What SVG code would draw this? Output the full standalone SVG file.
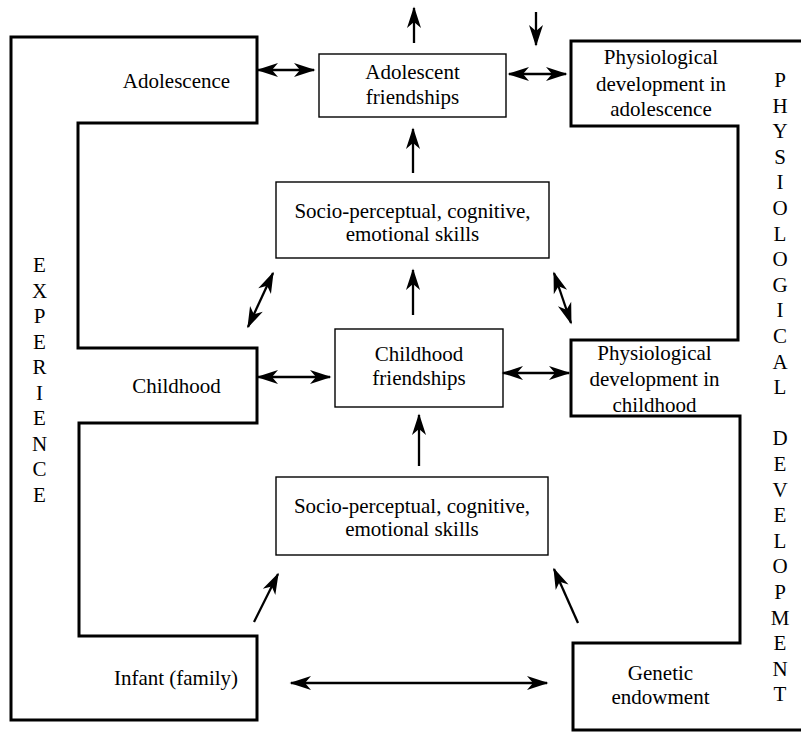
<svg xmlns="http://www.w3.org/2000/svg" width="801" height="743" viewBox="0 0 801 743">
<style>
  text { font-family: "Liberation Serif", "Times New Roman", serif; font-size: 21px; fill: #000; }
  .c { text-anchor: middle; }
  .frame { fill: none; stroke: #000; stroke-width: 3; stroke-linejoin: miter; }
  .box { fill: #fff; stroke: #000; stroke-width: 1.4; }
  .arr { fill: none; stroke: #000; stroke-width: 2.3; }
</style>
<defs>
  <marker id="ah" viewBox="-22 -9 24 18" refX="0" refY="0" markerWidth="24" markerHeight="18" markerUnits="userSpaceOnUse" orient="auto-start-reverse">
    <path d="M1.5,0 L-20,-7 L-14,0 L-20,7 Z" fill="#000"/>
  </marker>
</defs>
<rect width="801" height="743" fill="#fff"/>

<g id="experience">
  <path class="frame" d="M11,37 H257 V123 H78 V348 H257 V423 H79 V636 H257 V720 H11 Z"/>
  <text class="c" x="176.5" y="88">Adolescence</text>
  <text class="c" x="176.5" y="393">Childhood</text>
  <text class="c" x="176" y="685">Infant (family)</text>
  <text class="c" x="39.5" y="272">E</text>
  <text class="c" x="39.5" y="297.5">X</text>
  <text class="c" x="39.5" y="323">P</text>
  <text class="c" x="39.5" y="348.5">E</text>
  <text class="c" x="39.5" y="374">R</text>
  <text class="c" x="39.5" y="399.5">I</text>
  <text class="c" x="39.5" y="425">E</text>
  <text class="c" x="39.5" y="450.5">N</text>
  <text class="c" x="39.5" y="476">C</text>
  <text class="c" x="39.5" y="501.5">E</text>
</g>

<g id="physiological">
  <path class="frame" d="M810,41 H571 V126 H738 V340 H571 V416 H740 V643 H573 V730 H810"/>
  <text class="c" x="661" y="64">Physiological</text>
  <text class="c" x="661" y="90.5">development in</text>
  <text class="c" x="661" y="116">adolescence</text>
  <text class="c" x="654.5" y="360">Physiological</text>
  <text class="c" x="654.5" y="386">development in</text>
  <text class="c" x="654.5" y="412">childhood</text>
  <text class="c" x="660.5" y="680">Genetic</text>
  <text class="c" x="660.5" y="704">endowment</text>
  <text class="c" x="780" y="87">P</text>
  <text class="c" x="780" y="112.6">H</text>
  <text class="c" x="780" y="138.2">Y</text>
  <text class="c" x="780" y="163.8">S</text>
  <text class="c" x="780" y="189.4">I</text>
  <text class="c" x="780" y="215">O</text>
  <text class="c" x="780" y="240.6">L</text>
  <text class="c" x="780" y="266.2">O</text>
  <text class="c" x="780" y="291.8">G</text>
  <text class="c" x="780" y="317.4">I</text>
  <text class="c" x="780" y="343">C</text>
  <text class="c" x="780" y="368.6">A</text>
  <text class="c" x="780" y="394.2">L</text>
  <text class="c" x="780" y="445.4">D</text>
  <text class="c" x="780" y="471">E</text>
  <text class="c" x="780" y="496.6">V</text>
  <text class="c" x="780" y="522.2">E</text>
  <text class="c" x="780" y="547.8">L</text>
  <text class="c" x="780" y="573.4">O</text>
  <text class="c" x="780" y="599">P</text>
  <text class="c" x="780" y="624.6">M</text>
  <text class="c" x="780" y="650.2">E</text>
  <text class="c" x="780" y="675.8">N</text>
  <text class="c" x="780" y="701.4">T</text>
</g>

<g id="adolescent-friendships">
  <rect class="box" x="319" y="54" width="187" height="63"/>
  <text class="c" x="412.5" y="79">Adolescent</text>
  <text class="c" x="412.5" y="104">friendships</text>
</g>

<g id="skills-adolescence">
  <rect class="box" x="276" y="182" width="273" height="76"/>
  <text class="c" x="412.5" y="218">Socio-perceptual, cognitive,</text>
  <text class="c" x="412.5" y="241">emotional skills</text>
</g>

<g id="childhood-friendships">
  <rect class="box" x="335" y="329" width="168" height="78"/>
  <text class="c" x="419" y="361">Childhood</text>
  <text class="c" x="419" y="385">friendships</text>
</g>

<g id="skills-childhood">
  <rect class="box" x="276" y="477" width="272" height="78"/>
  <text class="c" x="412" y="513">Socio-perceptual, cognitive,</text>
  <text class="c" x="412" y="536">emotional skills</text>
</g>

<g id="connectors">
  <line class="arr" x1="258" y1="70" x2="314" y2="70" marker-start="url(#ah)" marker-end="url(#ah)"/>
  <line class="arr" x1="509" y1="74" x2="566" y2="74" marker-start="url(#ah)" marker-end="url(#ah)"/>
  <line class="arr" x1="414" y1="43" x2="414" y2="8" marker-end="url(#ah)"/>
  <line class="arr" x1="536" y1="12" x2="536" y2="45" marker-end="url(#ah)"/>
  <line class="arr" x1="413" y1="173" x2="413" y2="129" marker-end="url(#ah)"/>
  <line class="arr" x1="248" y1="327" x2="273" y2="273" marker-start="url(#ah)" marker-end="url(#ah)"/>
  <line class="arr" x1="554" y1="273" x2="571" y2="323" marker-start="url(#ah)" marker-end="url(#ah)"/>
  <line class="arr" x1="413" y1="315" x2="413" y2="270" marker-end="url(#ah)"/>
  <line class="arr" x1="258" y1="377" x2="330" y2="377" marker-start="url(#ah)" marker-end="url(#ah)"/>
  <line class="arr" x1="503" y1="373" x2="569" y2="373" marker-start="url(#ah)" marker-end="url(#ah)"/>
  <line class="arr" x1="419" y1="466" x2="419" y2="415" marker-end="url(#ah)"/>
  <line class="arr" x1="254" y1="622" x2="278" y2="574" marker-end="url(#ah)"/>
  <line class="arr" x1="578" y1="623" x2="554" y2="569" marker-end="url(#ah)"/>
  <line class="arr" x1="291" y1="683" x2="547" y2="683" marker-start="url(#ah)" marker-end="url(#ah)"/>
</g>
</svg>
